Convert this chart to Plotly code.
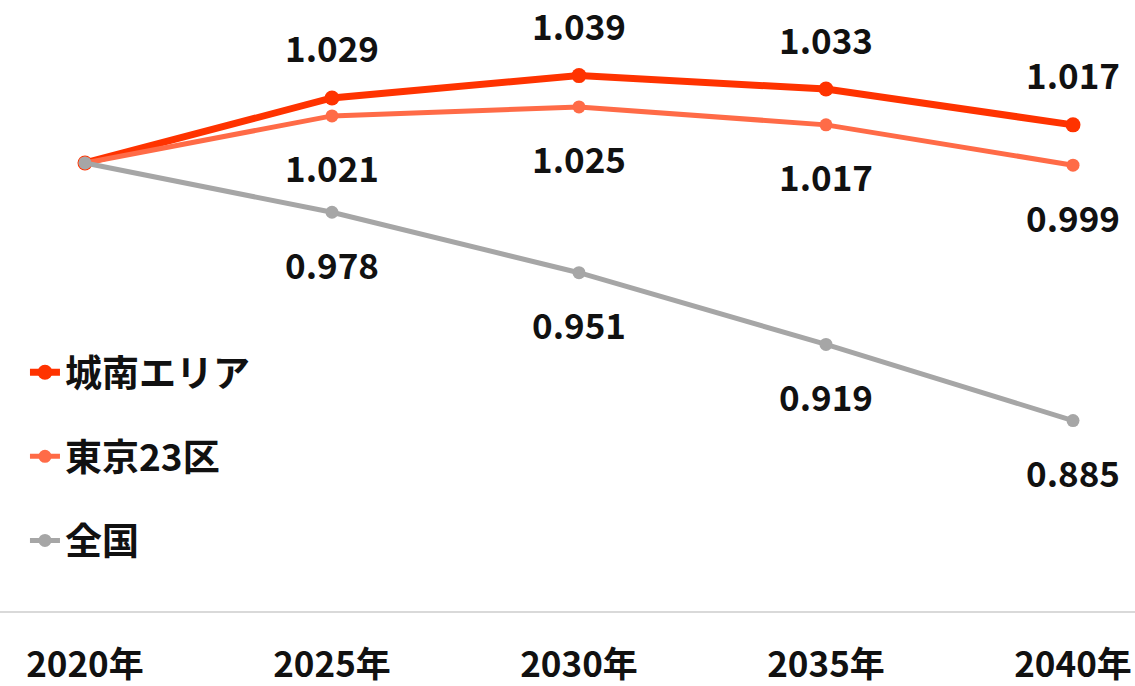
import plotly.graph_objects as go

years = ["2020年", "2025年", "2030年", "2035年", "2040年"]
jonan = [1.000, 1.029, 1.039, 1.033, 1.017]
tokyo23 = [1.000, 1.021, 1.025, 1.017, 0.999]
zenkoku = [1.000, 0.978, 0.951, 0.919, 0.885]

series = [
    ("城南エリア", jonan, "#FF3300", 7, 15, 51),
    ("東京23区", tokyo23, "#FF6B47", 5, 13, -51),
    ("全国", zenkoku, "#A6A6A6", 5, 13, -51),
]

FONT = "Noto Sans CJK JP"
fig = go.Figure()
annotations = []
for i, (name, vals, color, lw, ms, shift) in enumerate(series):
    fig.add_trace(go.Scatter(
        x=years, y=vals, name=name, mode="lines+markers",
        line=dict(color=color, width=lw),
        marker=dict(color=color, size=ms),
        legendgroup=f"g{i}",
    ))
    for x, v in list(zip(years, vals))[1:]:
        annotations.append(dict(
            x=x, y=v, xref="x", yref="y", text=f"{v:.3f}", showarrow=False,
            yshift=shift, font=dict(family=FONT, size=35, color="#111111", weight="bold"),
        ))

fig.update_layout(
    width=1135, height=686,
    margin=dict(l=0, r=0, t=3, b=75),
    paper_bgcolor="white", plot_bgcolor="white",
    font=dict(family=FONT, size=35, color="#111111", weight="bold"),
    showlegend=True,
    legend=dict(x=0.022, y=0.443, xanchor="left", yanchor="top",
                tracegroupgap=33, bgcolor="rgba(0,0,0,0)",
                font=dict(family=FONT, size=37, color="#111111", weight="bold"),
                itemwidth=30),
    annotations=annotations,
    xaxis=dict(type="category", range=[-0.344, 4.251], showgrid=False,
               showline=True, linecolor="#D9D9D9", linewidth=2,
               ticks="", ticklabelstandoff=22, zeroline=False,
               tickfont=dict(family=FONT, size=35, color="#111111", weight="bold")),
    yaxis=dict(range=[0.8, 1.0714], showgrid=False, showline=False,
               showticklabels=False, zeroline=False, ticks=""),
)

fig.write_html("out.html")
